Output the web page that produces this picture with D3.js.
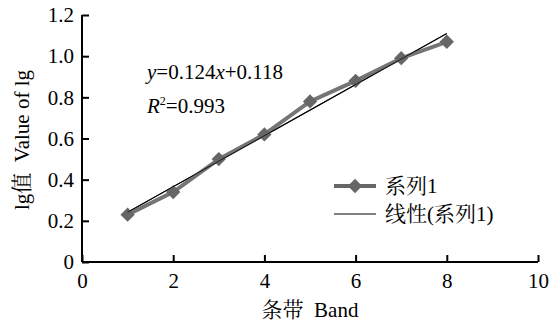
<!DOCTYPE html>
<html><head><meta charset="utf-8">
<script src="https://cdn.jsdelivr.net/npm/d3@7"></script>
<style>body{margin:0;background:#fff}svg{display:block}</style>
</head><body><svg id="c" width="560" height="327"></svg>
<script>
const bands = [1,2,3,4,5,6,7,8];
const lgValues = [0.23,0.34,0.50,0.62,0.78,0.88,0.99,1.07];
const xTicks = [0,2,4,6,8,10];
const yTicks = [0,0.2,0.4,0.6,0.8,1.0,1.2];
const slope = 0.124, intercept = 0.118;
const seriesName = "系列1", trendName = "线性(系列1)";

const FONT = "'Liberation Serif','Noto Serif CJK SC',serif";
const fs = 21;
const svg = d3.select("#c");
const x = d3.scaleLinear().domain([0,10]).range([82,538]);
const y = d3.scaleLinear().domain([0,1.2]).range([262,15]);

const xa = svg.append("g").attr("transform","translate(0,262)")
  .call(d3.axisBottom(x).tickValues(xTicks).tickSizeInner(-7).tickSizeOuter(0).tickPadding(11).tickFormat(d3.format("d")));
const ya = svg.append("g").attr("transform","translate(82,0)")
  .call(d3.axisLeft(y).tickValues(yTicks).tickSizeInner(-7).tickSizeOuter(0).tickPadding(8).tickFormat(d=>d===0?"0":d3.format(".1f")(d)));
[xa,ya].forEach(a=>{
  a.selectAll("path,line").attr("stroke","#000").attr("stroke-width",2);
  a.selectAll("text").style("font-family",FONT).style("font-size",fs+"px").attr("fill","#000");
});
xa.select(".domain").attr("d","M82,0H538");
ya.select(".domain").attr("d","M0,15V262");

function txt(xp, yp, s){
  return svg.append("text").attr("x",xp).attr("y",yp).style("font-family",FONT).style("font-size",fs+"px").attr("fill","#000").text(s||null);
}

svg.append("line")
  .attr("x1",x(1)).attr("y1",y(slope*1+intercept))
  .attr("x2",x(8)).attr("y2",y(slope*8+intercept))
  .attr("stroke","#000").attr("stroke-width",1.2);

const line = d3.line().x((d,i)=>x(bands[i])).y(d=>y(d));
svg.append("path").datum(lgValues).attr("d",line)
  .attr("fill","none").attr("stroke","#666").attr("stroke-width",4).attr("opacity",0.9);
const diamond = d3.symbol().type(d3.symbolDiamond2).size(130);
svg.selectAll(".m").data(lgValues).enter().append("path")
  .attr("transform",(d,i)=>`translate(${x(bands[i])},${y(d)})`)
  .attr("d",diamond).attr("fill","#666");

svg.append("line")
  .attr("x1",x(1)).attr("y1",y(slope*1+intercept))
  .attr("x2",x(8)).attr("y2",y(slope*8+intercept))
  .attr("stroke","#000").attr("stroke-width",1).attr("opacity",0.7);

const eq = txt(147,79);
eq.append("tspan").attr("font-style","italic").text("y");
eq.append("tspan").text("=0.124");
eq.append("tspan").attr("font-style","italic").text("x");
eq.append("tspan").text("+0.118");
const r2 = txt(147,113);
r2.append("tspan").attr("font-style","italic").text("R");
r2.append("tspan").style("font-size","12px").attr("dy",-8).text("2");
r2.append("tspan").attr("dy",8).text("=0.993");

svg.append("line").attr("x1",334).attr("x2",376).attr("y1",186).attr("y2",186).attr("stroke","#666").attr("stroke-width",4);
svg.append("path").attr("transform","translate(355,186)").attr("d",diamond).attr("fill","#666");
txt(385,193,seriesName);
svg.append("line").attr("x1",334).attr("x2",376).attr("y1",214).attr("y2",214).attr("stroke","#000").attr("stroke-width",1);
txt(385,221,trendName);

txt(310,317,"条带  Band").attr("text-anchor","middle").attr("xml:space","preserve");
txt(0,0,"lg值  Value of lg").attr("transform","translate(29,140) rotate(-90)").attr("text-anchor","middle").attr("xml:space","preserve");
</script></body></html>
